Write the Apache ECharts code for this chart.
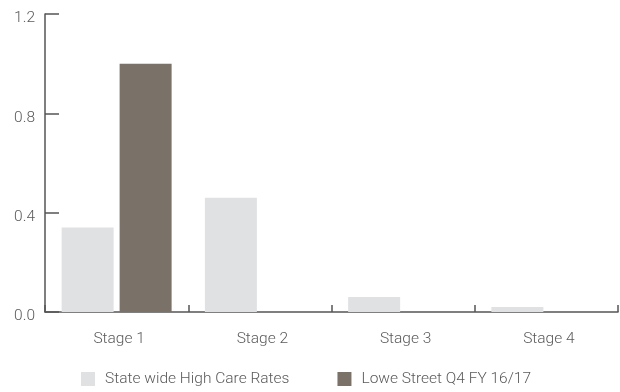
<!DOCTYPE html>
<html>
<head>
<meta charset="utf-8">
<script src="https://cdn.jsdelivr.net/npm/echarts@6/dist/echarts.min.js"></script>
<style>
  html, body { margin: 0; padding: 0; background: #fff; }
  #chart { width: 620px; height: 392px; }
</style>
</head>
<body>
<div id="chart"></div>
<script>
// Care-stage distribution: statewide rates vs. Lowe Street
const categories = ['Stage 1', 'Stage 2', 'Stage 3', 'Stage 4'];
const stateWide = [0.34, 0.46, 0.06, 0.02];
const loweStreet = [1.0, 0, 0, 0];
const seriesNames = ['State wide High Care Rates', 'Lowe Street Q4 FY 16/17'];
const yTicks = { min: 0, max: 1.2, interval: 0.4 };

const font = 'Roboto, "Open Sans", sans-serif';
const fontSize = 15.5;
const axisColor = '#555555';
const textColor = '#5a5a5a';

const chart = echarts.init(document.getElementById('chart'), null, { renderer: 'canvas' });

chart.setOption({
  animation: false,
  grid: { left: 45, right: 2, top: 14, bottom: 80, containLabel: false },
  legend: {
    left: 81,
    top: 371,
    padding: 0,
    itemWidth: 14,
    itemHeight: 14,
    itemGap: 48,
    icon: 'rect',
    textStyle: { color: textColor, fontFamily: font, fontSize: fontSize, fontWeight: 300, padding: [0, 0, 0, 5] },
    data: seriesNames
  },
  xAxis: {
    type: 'category',
    data: categories,
    axisLine: { lineStyle: { color: axisColor, width: 1.5 } },
    axisTick: { show: true, inside: true, length: 7, lineStyle: { color: axisColor, width: 1.5 } },
    axisLabel: {
      color: textColor, fontFamily: font, fontSize: fontSize, fontWeight: 300, margin: 19,
      padding: [0, 0, 0, 5]
    }
  },
  yAxis: {
    type: 'value',
    min: yTicks.min,
    max: yTicks.max,
    interval: yTicks.interval,
    splitLine: { show: false },
    axisLine: { show: true, lineStyle: { color: axisColor, width: 1.5 } },
    axisTick: { show: true, inside: true, length: 14, lineStyle: { color: axisColor, width: 1.5 } },
    axisLabel: {
      color: textColor, fontFamily: font, fontSize: fontSize, fontWeight: 300, margin: 10,
      verticalAlign: 'top',
      lineHeight: 9,
      formatter: v => v.toFixed(1)
    }
  },
  series: [
    {
      name: seriesNames[0],
      type: 'bar',
      data: stateWide,
      barWidth: 52,
      barGap: '11.5%',
      itemStyle: { color: '#e0e1e3' }
    },
    {
      name: seriesNames[1],
      type: 'bar',
      data: loweStreet,
      barWidth: 52,
      itemStyle: { color: '#7a7168' }
    }
  ]
});
</script>
</body>
</html>
